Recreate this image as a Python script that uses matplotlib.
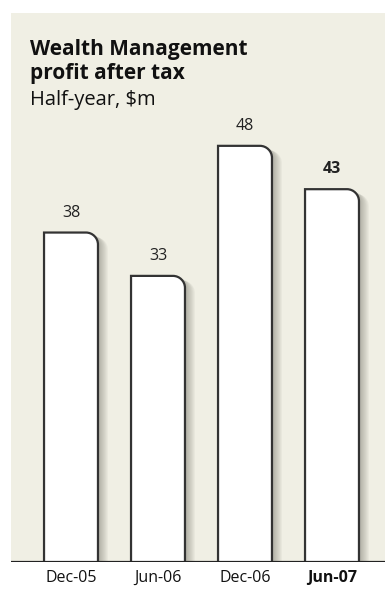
import numpy as np
import matplotlib.pyplot as plt
from matplotlib.path import Path
from matplotlib.patches import PathPatch

# dados
periods = ['Dec-05', 'Jun-06', 'Dec-06', 'Jun-07']
profit = [38, 33, 48, 43]
bold_idx = 3

bg = '#f0efe4'
plt.rcParams['font.family'] = ['Open Sans', 'DejaVu Sans']

fig = plt.figure(figsize=(3.85, 5.89), dpi=100)
fig.patch.set_facecolor('white')

# painel bege
W, H = 385.0, 589.0
left, right, top, base = 11, 385, 13, 562
ax = fig.add_axes([left / W, (H - base) / H, (right - left) / W, (base - top) / H])
ax.set_facecolor(bg)
for s in ax.spines.values():
    s.set_visible(False)
ax.set_xticks([])
ax.set_yticks([])

px_x = 87.0          # pixels por unidade x
px_y = 8.67          # pixels por unidade y
x0 = 60.0 / px_x
ax.set_xlim(-x0, (right - left) / px_x - x0)
ax.set_ylim(0, (base - top) / px_y)

width = 0.62
rx = 12 / px_x
ry = 12 / px_y


def bar_path(xc, h):
    xl, xr = xc - width / 2, xc + width / 2
    k = 0.55
    verts = [(xl, 0), (xl, h), (xr - rx, h),
             (xr - rx + k * rx, h), (xr, h - ry + k * ry), (xr, h - ry),
             (xr, 0)]
    codes = [Path.MOVETO, Path.LINETO, Path.LINETO,
             Path.CURVE4, Path.CURVE4, Path.CURVE4,
             Path.LINETO]
    return Path(verts, codes)


xs = np.arange(len(profit))
for i, (xc, v) in enumerate(zip(xs, profit)):
    # sombra
    for j in range(1, 11):
        sh = bar_path(xc + j * 1.0 / px_x, v - j * 0.5 / px_y)
        ax.add_patch(PathPatch(sh, facecolor='#3a3a30', edgecolor='none',
                               alpha=0.04, zorder=1))
    ax.add_patch(PathPatch(bar_path(xc, v), facecolor='white',
                           edgecolor='#333333', linewidth=1.6, zorder=2))
    ax.text(xc, v + 12 / px_y, str(v), ha='center', va='bottom', fontsize=11.5,
            fontweight='bold' if i == bold_idx else 'normal', color='#222222')

ax.axhline(0, color='#222222', linewidth=1.6, zorder=3)

for i, (xc, lab) in enumerate(zip(xs, periods)):
    fig.text((left + 60 + xc * px_x) / W, 1 - 578 / H, lab, ha='center', va='center',
             fontsize=11.5, fontweight='bold' if i == bold_idx else 'normal',
             color='#111111')

fig.text(30 / W, 1 - 49 / H, 'Wealth Management', ha='left', va='center',
         fontsize=15, fontweight='bold', color='#111111')
fig.text(30 / W, 1 - 74 / H, 'profit after tax', ha='left', va='center',
         fontsize=15, fontweight='bold', color='#111111')
fig.text(30 / W, 1 - 100 / H, 'Half-year, $m', ha='left', va='center',
         fontsize=14.5, color='#111111')

plt.savefig('out.png', dpi=100, facecolor='white')
